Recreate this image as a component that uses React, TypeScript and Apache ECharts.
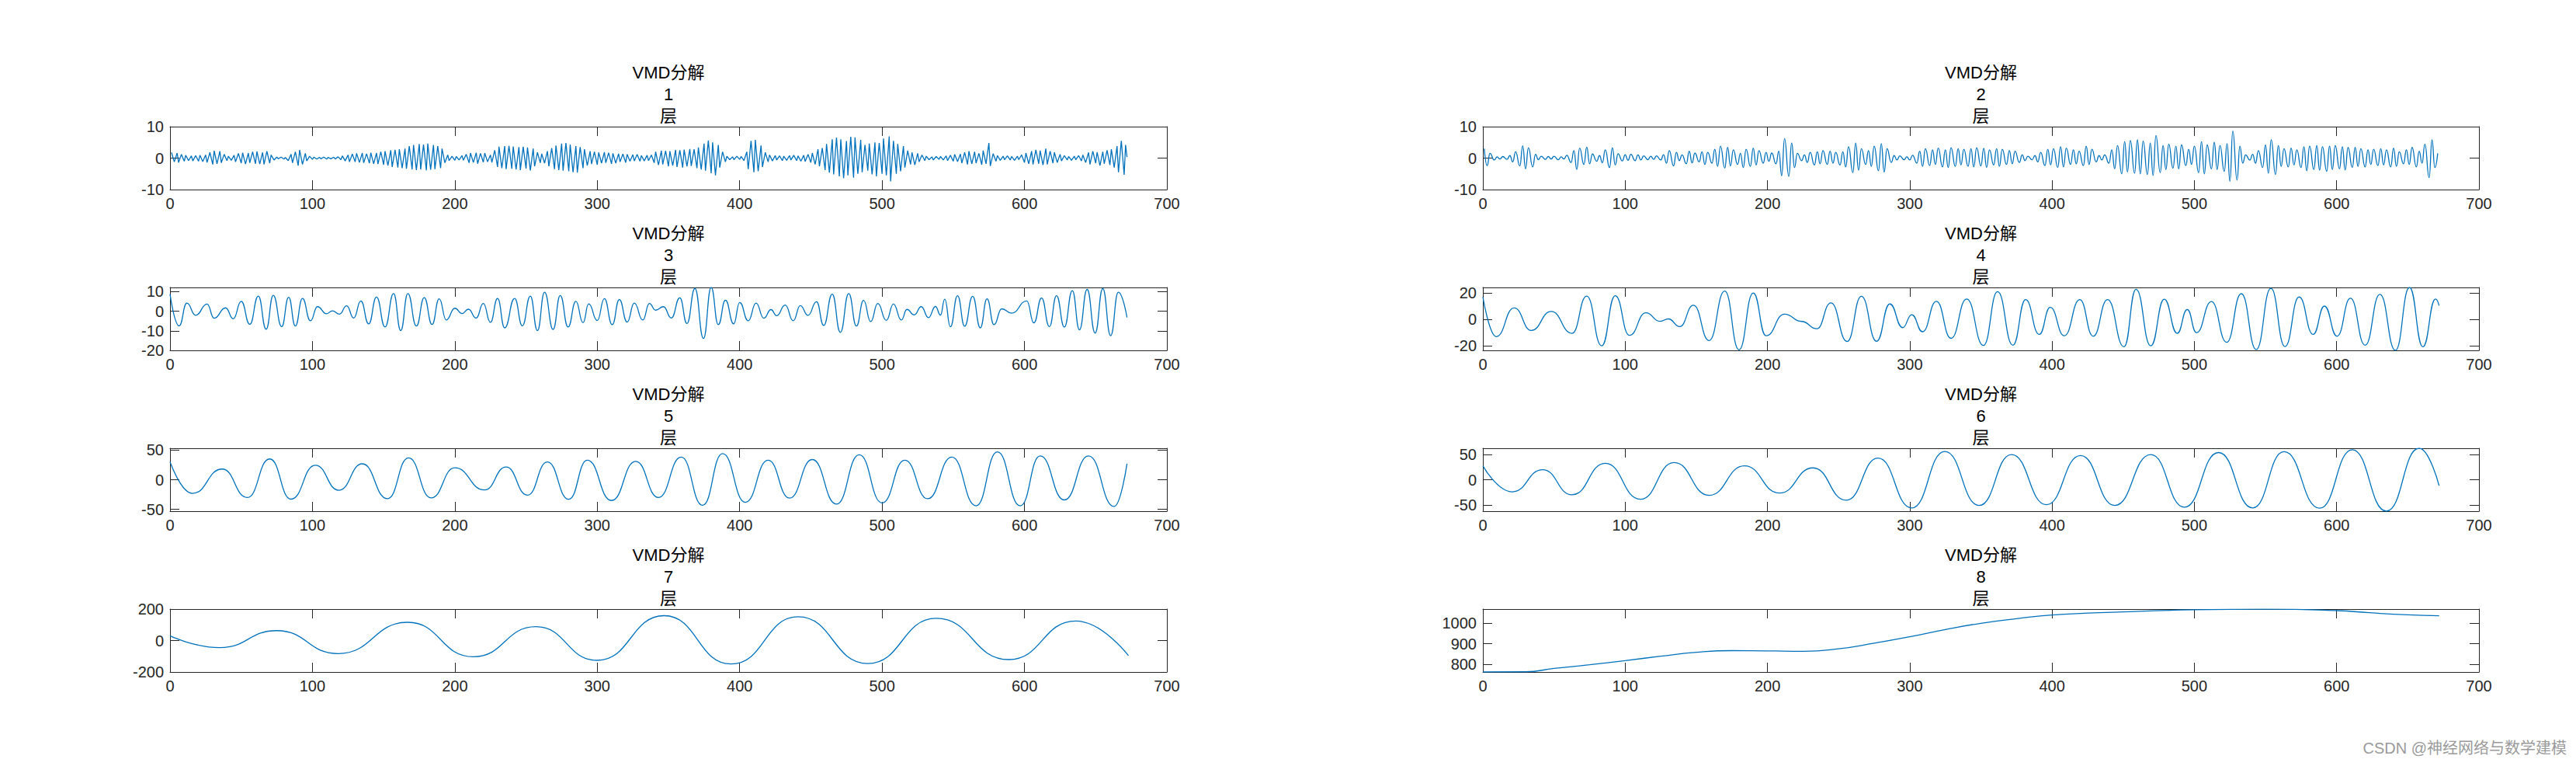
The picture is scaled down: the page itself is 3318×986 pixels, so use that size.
import React, { useEffect, useRef } from 'react';
import * as echarts from 'echarts';

// ---------- data ----------
const X_TICKS = [0, 100, 200, 300, 400, 500, 600, 700];
const Y_TICKS = [
  [-10, 0, 10],
  [-10, 0, 10],
  [-20, -10, 0, 10],
  [-20, 0, 20],
  [-50, 0, 50],
  [-50, 0, 50],
  [-200, 0, 200],
  [800, 900, 1000],
];
const Y_RANGES = [
  [-10, 10],
  [-10, 10],
  [-20, 12.1],
  [-23.4, 24.2],
  [-53, 53],
  [-62.5, 62.5],
  [-200, 200],
  [764, 1067.5],
];
const TITLE_HEAD = 'VMD分解';
const TITLE_TAIL = '层';
const LAYER_NAMES = ['1', '2', '3', '4', '5', '6', '7', '8'];
const WATERMARK = 'CSDN @神经网络与数学建模';

// IMF 1 (extrema)
const imf1 = [[1,1.8],[3,-1.2],[5,1.6],[6,-1.4],[8,1.2],[10,-1.0],
[11,0.9],[13,-0.8],[15,0.7],[16,-0.9],[18,0.8],[20,-1.0],[21,0.9],[23,-1.1],[25,1.0],
[26,-1.4],[28,1.8],[30,-2.0],[31,2.3],[33,-1.8],[35,2.2],
[36,-1.5],[38,1.2],[40,-0.8],[41,0.6],[43,-0.7],[45,0.9],
[46,-1.2],[48,1.5],[50,-1.6],[51,1.7],[53,-1.9],[55,1.6],[56,-1.5],[58,2.0],[60,-1.8],[61,2.1],[63,-1.9],[65,1.8],[66,-2.0],[68,2.2],[70,-1.6],
[71,1.0],[73,-0.6],[75,0.3],[76,-0.2],[78,0.3],[80,-0.3],[81,0.2],
[83,-0.8],[85,1.2],[86,-1.5],[88,2.0],[90,-2.4],[91,2.6],[93,-2.0],[95,1.5],
[96,-0.9],[98,0.6],[100,-0.4],[101,0.3],[103,-0.3],[105,0.2],[106,-0.2],[108,0.3],[110,-0.3],[111,0.2],[113,-0.2],[115,0.3],[116,-0.3],[118,0.4],[120,-0.5],
[121,0.7],[123,-0.9],[125,1.0],[126,-1.2],[128,1.3],[130,-1.2],[131,1.5],[133,-1.4],[135,1.6],[136,-1.5],[138,1.4],[140,-1.6],[141,1.7],[143,-1.8],[145,1.6],[146,-1.9],[148,2.0],[150,-2.1],
[151,2.2],[153,-2.4],[155,2.5],[156,-2.8],[158,2.6],[160,-3.0],[161,2.8],[163,-3.2],[165,3.0],
[166,-3.4],[168,3.8],[170,-3.6],[171,4.2],[173,-3.8],[175,4.5],[176,-3.6],[178,4.3],[180,-3.9],[181,4.6],[183,-3.7],[185,4.2],[186,-3.5],[188,3.8],[190,-3.2],
[191,3.0],[193,-1.5],[195,1.0],[196,-0.8],[198,0.6],[200,-0.7],[201,0.5],[203,-0.6],[205,0.8],
[206,-0.7],[208,1.2],[210,-1.5],[211,1.6],[213,-1.4],[215,1.7],[216,-1.8],[218,1.5],[220,-1.3],[221,1.6],[223,-1.2],[225,1.0],
[226,-1.4],[228,2.5],[230,-2.8],[231,3.6],[233,-3.2],[235,3.8],[236,-3.5],[238,3.9],[240,-3.4],[241,3.7],[243,-3.6],[245,3.5],[246,-3.8],[248,3.6],[250,-3.3],[251,3.4],[253,-3.9],[255,3.0],
[256,-2.6],[258,1.8],[260,-1.5],[261,1.4],[263,-1.6],[265,2.2],
[266,-2.6],[268,3.2],[270,-3.5],[271,4.0],[273,-3.8],[275,4.6],[276,-4.0],[278,4.8],[280,-4.2],[281,4.3],[283,-4.5],[285,3.8],[286,-4.6],[288,3.5],[290,-3.2],
[291,2.8],[293,-2.4],[295,2.2],[296,-1.9],[298,2.0],[300,-2.1],[301,1.8],[303,-1.6],[305,1.9],[306,-1.5],[308,1.7],[310,-1.8],[311,1.5],[313,-1.6],[315,1.4],[316,-1.2],[318,1.3],[320,-1.4],
[321,1.2],[323,-1.0],[325,1.1],[326,-0.9],[328,1.2],[330,-1.0],[331,0.8],[333,-0.9],[335,0.9],[336,-0.8],
[338,1.0],[340,-1.5],[341,2.0],[343,-2.2],[345,2.4],[346,-2.0],[348,2.3],[350,-2.6],
[351,2.2],[353,-2.4],[355,2.6],[356,-2.8],[358,2.5],[360,-3.0],[361,2.7],[363,-2.6],[365,2.9],[366,-2.5],[368,2.8],[370,-3.2],
[371,3.4],[373,-3.6],[375,4.6],[376,-4.0],[378,5.6],[380,-4.8],[381,5.0],[383,-5.5],[385,4.2],
[386,-3.0],[388,2.0],[390,-1.2],[391,0.6],[393,-0.5],[395,0.4],[396,-0.5],[398,0.6],[400,-0.4],[401,0.5],
[403,-0.8],[405,2.0],[406,-3.5],[408,5.5],[410,-4.5],[411,5.8],[413,-4.2],[415,4.0],
[416,-2.8],[418,1.8],[420,-1.2],[421,1.0],[423,-0.9],[425,0.8],[426,-0.6],[428,0.7],[430,-0.8],[431,0.6],[433,-0.7],[435,0.8],[436,-0.6],[438,0.9],[440,-0.8],[441,0.7],[443,-1.0],[445,0.9],[446,-1.1],[448,1.2],[450,-1.4],
[451,1.6],[453,-2.0],[455,2.8],[456,-2.6],[458,3.2],[460,-3.8],
[461,4.5],[463,-4.6],[465,6.0],[466,-5.2],[468,6.5],[470,-5.8],[471,6.0],[473,-6.4],[475,5.4],[476,-5.5],[478,6.8],[480,-6.2],[481,6.6],[483,-5.0],[485,5.8],[486,-4.5],[488,4.2],[490,-4.0],
[491,4.6],[493,-5.2],[495,5.0],[496,-5.8],[498,4.8],[500,-5.0],[501,6.2],[503,-5.5],[505,6.9],[506,-7.4],[508,5.5],[510,-5.0],[511,4.5],[513,-4.2],[515,3.8],
[516,-3.0],[518,2.4],[520,-2.0],[521,1.8],[523,-2.2],[525,1.5],[526,-1.2],[528,1.0],[530,-0.8],
[531,0.6],[533,-0.5],[535,0.4],[536,-0.6],[538,0.5],[540,-0.4],[541,0.5],[543,-0.6],[545,0.7],[546,-0.8],[548,0.9],[550,-1.0],[551,1.2],[553,-1.1],[555,1.3],
[556,-1.6],[558,1.8],[560,-2.0],[561,2.2],[563,-1.8],[565,2.0],[566,-1.6],[568,1.5],[570,-2.1],[571,2.4],[573,-1.8],[575,4.8],
[576,-2.5],[578,1.4],[580,-1.0],[581,0.8],[583,-0.7],[585,0.6],[586,-0.5],[588,0.7],[590,-0.6],[591,0.5],[593,-0.7],[595,0.6],
[596,-0.5],[598,1.0],[600,-1.4],[601,1.6],[603,-1.8],[605,2.2],[606,-2.0],[608,2.6],[610,-1.8],[611,2.4],[613,-2.2],[615,3.0],[616,-2.0],[618,2.2],[620,-1.6],[621,1.8],[623,-1.4],[625,1.2],
[626,-0.9],[628,0.8],[630,-0.6],[631,0.5],[633,-0.7],[635,0.6],[636,-0.5],[638,0.8],[640,-0.9],
[641,1.0],[643,-1.4],[645,1.8],[646,-2.0],[648,2.2],[650,-1.6],[651,1.9],[653,-2.4],[655,2.0],[656,-1.8],[658,2.5],[660,-2.2],
[661,2.8],[663,-3.0],[665,3.8],[666,-4.5],[668,5.5],[670,-5.3],[671,4.2],[672,0.3]];

// IMF 2 (extrema)
const imf2 = [[1,3.0],[3,-2.4],[5,1.5],[8,-0.6],[10,0.4],[12,-0.3],[14,0.5],[17,-0.4],[19,0.8],[21,-1.2],[23,2.0],[26,-2.5],[28,3.9],[30,-3.4],[32,3.3],[35,-2.8],[37,1.2],[39,-0.5],[41,0.6],[44,-0.4],[46,0.5],[48,-0.3],[50,0.6],[53,-0.5],[55,0.4],[57,-0.3],[59,0.9],[62,-1.4],[64,2.4],[66,-3.6],[68,3.2],[71,-2.0],[73,3.5],[75,-1.8],[77,1.3],[80,-1.0],[82,0.8],[84,-1.5],[86,2.6],[89,-3.0],[91,3.3],[93,-2.2],[95,1.4],[98,-0.9],[100,1.1],[102,-0.7],[104,1.2],[107,-0.8],[109,1.0],[111,-0.6],[113,0.7],[116,-0.5],[118,0.6],[120,-0.4],[122,0.7],[125,-0.6],[127,1.1],[129,-1.6],[131,2.4],[134,-2.5],[136,1.8],[138,-0.8],[140,1.0],[143,-1.8],[145,2.2],[147,-1.5],[149,1.6],[152,-1.2],[154,2.0],[156,-2.0],[158,1.8],[161,-1.6],[163,2.8],[165,-2.6],[167,3.8],[170,-3.2],[172,3.4],[174,-2.5],[176,2.6],[179,-2.0],[181,1.5],[183,-3.0],[185,2.8],[188,-2.6],[190,3.2],[192,-2.2],[194,2.4],[197,-1.6],[199,1.8],[201,-1.0],[203,1.6],[206,-1.8],[208,2.2],[210,-5.6],[212,6.2],[215,-5.8],[217,4.8],[219,-3.0],[221,1.5],[224,-0.8],[226,1.0],[228,-1.4],[230,1.8],[233,-2.2],[235,2.0],[237,-1.8],[239,2.4],[242,-2.0],[244,2.2],[246,-1.6],[248,1.8],[251,-2.2],[253,2.0],[255,-2.8],[257,3.6],[260,-4.6],[262,4.8],[264,-3.8],[266,3.0],[269,-2.0],[271,2.4],[273,-2.6],[275,3.8],[278,-4.0],[280,4.6],[282,-4.4],[284,3.0],[287,-1.4],[289,0.8],[291,-0.6],[293,0.7],[296,-0.5],[298,0.4],[300,-0.6],[302,0.9],[305,-1.6],[307,2.2],[309,-2.6],[311,3.0],[314,-2.4],[316,2.6],[318,-2.0],[320,3.2],[323,-2.8],[325,2.6],[327,-3.0],[329,3.3],[332,-2.6],[334,3.0],[336,-2.2],[338,2.8],[341,-2.6],[343,3.0],[345,-2.8],[347,3.3],[350,-2.5],[352,3.1],[354,-3.0],[356,2.6],[359,-2.2],[361,3.0],[363,-2.6],[365,2.8],[368,-2.0],[370,2.4],[372,-1.8],[374,2.2],[377,-1.4],[379,1.0],[381,-0.8],[383,0.6],[386,-0.5],[388,0.8],[390,-1.2],[392,1.8],[395,-2.4],[397,2.8],[399,-2.2],[401,3.0],[404,-3.0],[406,3.6],[408,-2.8],[410,3.2],[413,-2.0],[415,2.6],[417,-1.8],[419,2.2],[422,-2.4],[424,3.8],[426,-2.0],[428,2.8],[431,-1.2],[433,0.8],[435,-0.6],[437,1.0],[440,-1.6],[442,2.6],[444,-3.4],[446,4.0],[449,-5.0],[451,5.2],[453,-4.4],[455,5.6],[458,-4.8],[460,5.8],[462,-5.0],[464,5.4],[467,-5.2],[469,4.8],[471,-5.5],[473,7.2],[476,-4.6],[478,4.0],[480,-3.6],[482,4.4],[485,-3.2],[487,3.8],[489,-3.4],[491,4.2],[494,-2.4],[496,2.8],[498,-2.0],[500,3.8],[503,-4.6],[505,5.2],[507,-5.0],[509,4.2],[512,-3.4],[514,5.0],[516,-3.6],[518,4.0],[521,-4.2],[523,4.6],[525,-7.4],[527,8.6],[530,-7.0],[532,3.8],[534,-1.6],[536,1.0],[539,-0.6],[541,1.2],[543,-1.6],[545,2.4],[548,-3.0],[550,4.2],[552,-4.8],[554,5.8],[557,-5.2],[559,4.0],[561,-2.6],[563,3.0],[566,-2.8],[568,3.2],[570,-2.2],[572,2.6],[575,-3.0],[577,3.6],[579,-4.0],[581,3.8],[584,-3.6],[586,4.0],[588,-3.8],[590,3.6],[593,-4.2],[595,3.8],[597,-3.6],[599,4.0],[602,-3.4],[604,3.6],[606,-3.8],[608,3.4],[611,-3.0],[613,3.4],[615,-2.6],[617,3.0],[620,-2.8],[622,2.6],[624,-2.0],[626,2.8],[629,-2.4],[631,3.0],[633,-2.2],[635,2.6],[638,-2.8],[640,3.2],[642,-2.6],[644,2.0],[647,-1.8],[649,2.6],[651,-2.0],[653,3.4],[656,-2.8],[658,2.2],[660,-1.6],[662,4.4],[665,-6.2],[667,5.8],[669,-3.0],[671,1.5]];

// IMF 3 (extrema)
const imf3 = [[0,8.7],[6.4,-7.5],[11.8,4.1],[18,-2.1],[26,3.6],[31,-3.6],[39,1.7],[44.4,-3.9],[50,5],[56,-6.7],[62,7.7],[67.5,-9.2],[72.5,8.1],[78.4,-7.9],[83.3,7.1],[88,-7.6],[93,6.5],[98.6,-4.9],[103.5,2.3],[110,-1.3],[114,0.2],[119,-1.5],[124,2.7],[129,-3.5],[134,5.2],[139.5,-6.5],[145,7.2],[151,-8.1],[157,9],[162,-9.9],[167,9],[173,-7.6],[178.5,6.9],[184,-6.8],[189,6.3],[194,-4.5],[200,1.5],[205,-1.2],[209.5,1],[215,-3.5],[220,3.9],[225,-5.7],[230,6.5],[235,-8.5],[242,6.5],[247.4,-7.5],[253,7.7],[258,-9.9],[263,9.7],[269,-9.3],[274,8],[279.5,-8.1],[285,5],[290,-5.9],[294,3.7],[300,-4.8],[305,6.4],[310.5,-6.9],[315.5,5.9],[321,-5.6],[326,4.1],[332,-4.5],[336.6,3.9],[341,0.5],[346.5,2.3],[352,-3.5],[358,6.8],[363,-6.3],[368.6,11.6],[374.6,-13.9],[380,12.1],[385,-6.9],[390,5.6],[395.8,-6.5],[400,4.4],[406,-4.9],[411.5,4.1],[417,-3.6],[422,0.8],[426,-2.3],[432,3.1],[437.6,-4.9],[442.6,2.8],[448,-2.1],[454,4.8],[459,-7.3],[465,8.7],[470.7,-10.8],[476.6,9],[482,-7.6],[487,5.5],[492,-5.3],[497,3.9],[503,-4.7],[508,3.6],[513.5,-4.5],[517.5,0.9],[522.6,-1.9],[527.5,2.3],[532.6,-3.3],[537.5,2.4],[541,-2.0],[544,6.1],[548,-8],[553,7.9],[558,-7.7],[563.6,7.6],[569,-8.5],[573.7,6.3],[578.6,-6.9],[584,1.2],[591,-1.0],[601.6,5.2],[606.6,-6],[612,6.7],[617.5,-7.9],[622.5,7.9],[628,-8.1],[633.6,10.5],[638.6,-9.5],[644,11.1],[649.6,-11.2],[655,11.5],[660.5,-12.5],[665.9,9.7],[672,-3.2]];

// IMF 4 (extrema)
const imf4 = [[0,17],[9.4,-13],[22,8.7],[34,-8.3],[48,6],[62.7,-10.5],[73,17.7],[83.5,-20],[93,18],[103,-12],[114.6,5],[124.5,-1.4],[130.4,0.4],[138.3,-5.4],[148,10.7],[159,-16],[170,21.5],[180,-23],[190,20],[199,-12.3],[212,4],[224,-1.5],[234.7,-7],[244.6,12.5],[256,-16.7],[266,17.5],[276.7,-16.5],[286,11.7],[295,-6.2],[301.4,3.6],[309,-9.3],[318.7,13.7],[329,-14.3],[340,15.5],[351.8,-19.7],[361.7,21],[372.5,-19.5],[381.4,15],[391,-11.3],[398.7,9.1],[408.6,-12.3],[419.5,15],[428.9,-12.7],[439,15],[450.6,-20.7],[459,22.8],[469.4,-20],[478.8,15.3],[488,-10.5],[495,7.5],[501.5,-10],[512,13.5],[522.7,-17.3],[533,19.5],[543.5,-22.7],[553.8,23.5],[563.7,-20.5],[573.6,17],[583.5,-11.3],[591.4,10.1],[600.3,-12.7],[609.7,16],[620,-19.5],[630.4,19],[641.3,-23.4],[651.2,24.2],[660.6,-20.7],[669.5,15.5],[672,10.5]];

// IMF 5 (extrema)
const imf5 = [[0,30],[15.8,-23],[36.6,18],[54.3,-30],[70,35],[85,-32.7],[102,24.5],[118.6,-17.7],[135,26.8],[152.7,-32],[167.5,36.8],[183.3,-30.5],[200,20],[220.8,-17.3],[236,21.4],[251,-26],[265,30],[280,-33],[293,33],[310,-35],[327,31],[343,-30],[359,38],[374,-43],[388,44],[404,-38],[420,33],[435,-31],[451,34],[468,-41],[484,42],[500,-39],[516,33],[532,-32],[549,38],[566,-44],[581,47],[597,-44],[611,40],[628,-34],[645,40],[663,-45],[672,27]];

// IMF 6 (extrema)
const imf6 = [[0,27.5],[20.7,-24],[42,20],[62.7,-30],[86,32.7],[110.7,-38.8],[134.4,34],[159,-31],[183.8,27.5],[208.5,-26.5],[232,23.5],[255.4,-40.8],[277.7,42.9],[301.4,-56],[324.6,56],[348.8,-51],[371.5,50],[396,-49.5],[420,48],[444,-51],[469.4,50],[493,-54.6],[517,54],[541,-56],[563,55.6],[588,-56.6],[611,59.7],[635,-62.5],[658,62.5],[672,-11.7]];

// IMF 7 (extrema)
const imf7 = [[0,30],[35,-45],[75,63],[118,-83],[167,116],[213,-103],[257,88],[300,-126],[347,158],[394,-149],[441,151],[490,-146],[538,141],[589,-121],[636,124],[673,-96]];

// IMF 8 (trend, sampled)
const imf8 = [[0,764],[30,765],[50,781],[75,799],[100,819],[125,840],[150,859],[175,867],[200,866],[225,864],[250,876],[275,903],[300,934],[325,969],[350,999],[375,1021],[400,1039],[450,1054],[500,1064],[550,1067],[600,1060],[625,1049],[650,1040],[672,1035]];

const SERIES_DATA = [imf1, imf2, imf3, imf4, imf5, imf6, imf7, imf8];

// ---------- layout / style ----------
const W = 3318;
const H = 986;
const COL_LEFT = [219, 1910];
const COL_WIDTH = [1284, 1283];
const ROW_TOP = [163, 370, 577, 784];
const BOX_H = 81;
const AXIS_COLOR = '#262626';
const LINE_COLOR = '#0072BD';
const FONT = '"Liberation Sans", Arial, "Noto Sans CJK SC", sans-serif';

export default function App() {
  const ref = useRef<HTMLDivElement>(null);

  useEffect(() => {
    document.body.style.margin = '0';
    if (!ref.current) return;
    const chart = echarts.init(ref.current, undefined, { renderer: 'svg' });

    const grids: any[] = [];
    const xAxes: any[] = [];
    const yAxes: any[] = [];
    const series: any[] = [];
    const graphics: any[] = [];

    for (let i = 0; i < 8; i++) {
      const col = i % 2;
      const row = Math.floor(i / 2);
      const left = COL_LEFT[col];
      const top = ROW_TOP[row];
      const width = COL_WIDTH[col];
      grids.push({ left, top, width, height: BOX_H, show: false, containLabel: false });

      const axisLine = { show: true, onZero: false, lineStyle: { color: AXIS_COLOR, width: 1 } };
      const tick = (vals: number[]) => ({
        show: true,
        inside: true,
        length: 12,
        customValues: vals,
        lineStyle: { color: AXIS_COLOR, width: 1 },
      });
      const label = (vals: number[], margin: number) => ({
        show: true,
        customValues: vals,
        margin,
        fontSize: 20,
        color: AXIS_COLOR,
        fontFamily: FONT,
        showMinLabel: true,
        showMaxLabel: true,
        formatter: (v: number) => String(v),
      });

      xAxes.push({
        gridIndex: i, type: 'value', position: 'bottom', min: 0, max: 700,
        axisLine, axisTick: tick(X_TICKS), axisLabel: label(X_TICKS, 8),
        splitLine: { show: false },
      });
      xAxes.push({
        gridIndex: i, type: 'value', position: 'top', min: 0, max: 700,
        axisLine, axisTick: tick(X_TICKS), axisLabel: { show: false },
        splitLine: { show: false },
      });
      const [ymin, ymax] = Y_RANGES[i];
      yAxes.push({
        gridIndex: i, type: 'value', position: 'left', min: ymin, max: ymax,
        axisLine, axisTick: tick(Y_TICKS[i]), axisLabel: label(Y_TICKS[i], 8),
        splitLine: { show: false },
      });
      yAxes.push({
        gridIndex: i, type: 'value', position: 'right', min: ymin, max: ymax,
        axisLine, axisTick: tick(Y_TICKS[i]), axisLabel: { show: false },
        splitLine: { show: false },
      });

      const isTrend = i === 7;
      const isRaw = i === 0;
      series.push({
        type: 'line',
        xAxisIndex: 2 * i,
        yAxisIndex: 2 * i,
        data: SERIES_DATA[i],
        showSymbol: false,
        symbol: 'none',
        smooth: isRaw ? false : 0.5,
        smoothMonotone: isTrend || isRaw ? undefined : 'x',
        lineStyle: { color: LINE_COLOR, width: 1.3 },
        silent: true,
        clip: true,
      });

      const cx = left + width / 2;
      const lines = [TITLE_HEAD, LAYER_NAMES[i], TITLE_TAIL];
      lines.forEach((t, k) => {
        graphics.push({
          type: 'text',
          x: cx,
          y: top - 70 + k * 28,
          silent: true,
          style: {
            text: t,
            fill: '#000',
            font: `22px ${FONT}`,
            align: 'center',
            verticalAlign: 'middle',
          },
        });
      });
    }

    graphics.push({
      type: 'text',
      x: 3306,
      y: 963,
      silent: true,
      style: {
        text: WATERMARK,
        fill: '#9a9a9a',
        font: `20px ${FONT}`,
        align: 'right',
        verticalAlign: 'middle',
      },
    });

    chart.setOption({
      animation: false,
      backgroundColor: '#ffffff',
      grid: grids,
      xAxis: xAxes,
      yAxis: yAxes,
      series,
      graphic: graphics,
    });

    return () => chart.dispose();
  }, []);

  return <div ref={ref} style={{ width: W, height: H, position: 'absolute', left: 0, top: 0 }} />;
}
